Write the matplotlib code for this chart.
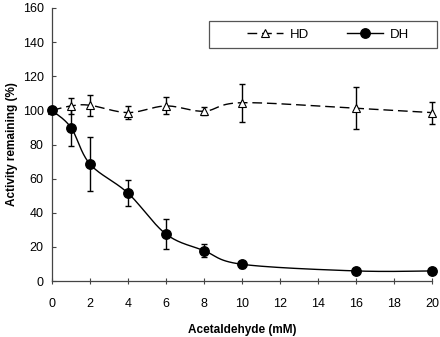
import matplotlib
matplotlib.use("Agg")
import matplotlib.pyplot as plt
from matplotlib.patches import Rectangle
import numpy as np

plt.rcParams['font.family'] = ['Liberation Sans', 'DejaVu Sans']

# acetaldehyde concentration (mM)
conc = [0, 1, 2, 4, 6, 8, 10, 16, 20]

# HD series: activity remaining (%) and error
hd_val = [100, 102.6, 103, 98.7, 102.6, 99.5, 104.5, 101.2, 98.7]
hd_err = [0, 4.5, 6.3, 4, 5, 2.3, 11.2, 12.4, 6.4]

# DH series
dh_val = [100, 89.9, 68.5, 51.5, 27.5, 17.8, 9.8, 5.9, 5.9]
dh_err = [0, 11, 16, 7.5, 9, 4, 2, 1, 1]

xticks = list(range(0, 21, 2))
yticks = list(range(0, 161, 20))

DASH = (0, (7, 3.5))


def smooth(x, y, n=30):
    # Excel-style smoothed line (Catmull-Rom bezier)
    x = np.asarray(x, float)
    y = np.asarray(y, float)
    px = np.concatenate([[x[0]], x, [x[-1]]])
    py = np.concatenate([[y[0]], y, [y[-1]]])
    xs, ys = [], []
    t = np.linspace(0, 1, n)
    for i in range(1, len(px) - 2):
        p0 = np.array([px[i], py[i]])
        p3 = np.array([px[i + 1], py[i + 1]])
        p1 = p0 + (np.array([px[i + 1], py[i + 1]]) - np.array([px[i - 1], py[i - 1]])) / 6
        p2 = p3 - (np.array([px[i + 2], py[i + 2]]) - np.array([px[i], py[i]])) / 6
        b = ((1 - t) ** 3)[:, None] * p0 + (3 * (1 - t) ** 2 * t)[:, None] * p1 \
            + (3 * (1 - t) * t ** 2)[:, None] * p2 + (t ** 3)[:, None] * p3
        xs.extend(b[:, 0])
        ys.extend(b[:, 1])
    return xs, ys


fig = plt.figure(figsize=(4.4, 3.37), dpi=100)
ax = fig.add_axes([52 / 440, 56 / 337, 380 / 440, 273 / 337])

sx, sy = smooth(conc, hd_val)
ax.plot(sx, sy, color='black', lw=1.0, ls=DASH, zorder=2)
eb = ax.errorbar(conc, hd_val, yerr=hd_err, fmt='none', ecolor='black',
                 elinewidth=1.0, capsize=2.5, capthick=1.0, zorder=3)
for a in eb.lines[1] + eb.lines[2]:
    a.set_clip_on(False)
ax.plot(conc, hd_val, ls='none', marker='^', ms=5.5, mfc='white',
        mec='black', mew=0.8, zorder=4, clip_on=False)

sx, sy = smooth(conc, dh_val)
ax.plot(sx, sy, color='black', lw=1.0, zorder=2)
eb = ax.errorbar(conc, dh_val, yerr=dh_err, fmt='none', ecolor='black',
                 elinewidth=1.0, capsize=2.5, capthick=1.0, zorder=3)
for a in eb.lines[1] + eb.lines[2]:
    a.set_clip_on(False)
ax.plot(conc, dh_val, ls='none', marker='o', ms=6.8, mfc='black',
        mec='black', zorder=4, clip_on=False)

ax.set_xlim(0, 20)
ax.set_ylim(0, 160)
ax.set_xticks(xticks)
ax.set_yticks(yticks)
ax.spines['top'].set_visible(False)
ax.spines['right'].set_visible(False)
for s in ['left', 'bottom']:
    ax.spines[s].set_color('#444444')
    ax.spines[s].set_linewidth(0.9)
ax.tick_params(axis='y', direction='in', length=3, color='#444444',
               labelsize=9, pad=6)
ax.tick_params(axis='x', direction='inout', length=5, color='#444444',
               labelsize=9, pad=10)
ax.set_xlabel('Acetaldehyde (mM)', fontsize=8.5, fontweight='bold', labelpad=10)
ax.set_ylabel('Activity remaining (%)', fontsize=8.5, fontweight='bold', labelpad=3)

# legend frame drawn separately (wide padding at the sides)
fig.patches.append(Rectangle((209 / 440, 1 - 48 / 337), 228 / 440, 27 / 337,
                             transform=fig.transFigure, fill=False,
                             edgecolor='#555555', lw=0.9))
h1, = ax.plot([], [], color='black', lw=1.0, ls=DASH, marker='^',
              ms=5.5, mfc='white', mec='black', mew=0.8)
h2, = ax.plot([], [], color='black', lw=1.0, marker='o', ms=6.8, mfc='black')
leg = fig.legend([h1, h2], ['HD', 'DH'], ncol=2,
                 loc='center left', bbox_to_anchor=(247 / 440, 1 - 34.5 / 337),
                 frameon=False, fontsize=9.5, handlelength=2.7,
                 columnspacing=2.9, handletextpad=0.55, borderpad=0,
                 borderaxespad=0)

fig.savefig('out.png', dpi=100)
